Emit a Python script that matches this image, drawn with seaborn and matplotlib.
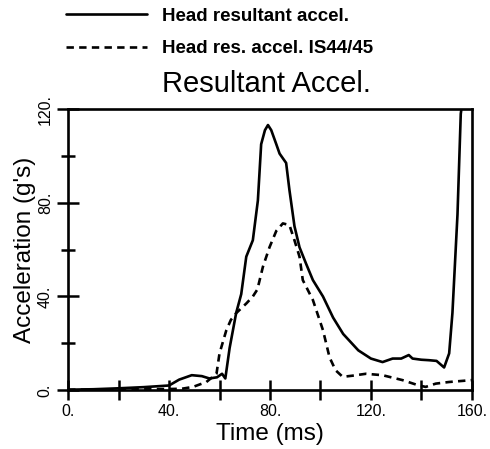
import seaborn as sns
import matplotlib.pyplot as plt
import pandas as pd

# Values
solid_t = [0, 10, 20, 30, 40, 44, 49, 53, 56, 59, 61, 62.3, 64, 66.6, 68.6, 70.6, 73.2,
           75.2, 76.5, 78, 79.2, 80.5, 82.5, 83.8, 86.4, 87.7, 89.7, 91.7, 94.3, 97,
           101, 105, 109, 115, 120, 124.6, 128.6, 132, 135, 136.5, 140, 143, 146, 149,
           151, 152.3, 154.3, 155.6, 156.5]
solid_g = [0.2, 0.4, 0.8, 1.3, 2, 4.5, 6.4, 6, 5, 5.5, 7, 5, 18, 33, 41, 57, 64,
           81, 105, 111, 113.2, 111, 105, 101, 97, 85.5, 70, 61, 54, 47,
           40, 31, 24, 17, 13.5, 12, 13.5, 13.5, 15, 13.5, 13, 12.8, 12.5, 9.7,
           15.7, 33, 75, 118, 125]

dash_t = [0, 20, 40, 45, 49.5, 54.8, 58.8, 60, 62.7, 64.5, 66.7, 70.6, 73.2, 75,
          77.2, 79.8, 82.5, 85.1, 87.7, 89.7, 91.7, 93, 97, 101, 103.6, 106, 108.8,
          112.8, 118, 124.6, 132.5, 139, 141.7, 145.7, 151, 160]
dash_g = [0.2, 0.3, 0.5, 0.6, 1.4, 3.5, 7, 15.7, 25.6, 30, 33, 37, 40, 43,
          52.7, 61, 68, 71.2, 70.5, 64, 57, 47, 38.5, 25.6, 14, 8.5, 5.7,
          6.2, 7, 6.4, 4.3, 2, 1.4, 2.8, 3.5, 4.3]

x_ticks = [0, 40, 80, 120, 160]
x_labels = ['0.', '40.', '80.', '120.', '160.']
y_ticks = [0, 40, 80, 120]
y_labels = ['0.', '40.', '80.', '120.']

solid_df = pd.DataFrame({'Time': solid_t, 'Accel': solid_g})
dash_df = pd.DataFrame({'Time': dash_t, 'Accel': dash_g})

sns.set_style('white')
plt.rcParams['font.family'] = ['Liberation Sans', 'DejaVu Sans']
plt.rcParams['text.color'] = 'black'
plt.rcParams['axes.labelcolor'] = 'black'
plt.rcParams['xtick.color'] = 'black'
plt.rcParams['ytick.color'] = 'black'

fig = plt.figure(figsize=(4.9, 4.49), dpi=100)
ax = fig.add_axes([0.139, 0.131, 0.824, 0.626])

sns.lineplot(x='Time', y='Accel', data=solid_df, ax=ax, color='black', lw=1.9,
             label='Head resultant accel.', sort=False)
sns.lineplot(x='Time', y='Accel', data=dash_df, ax=ax, color='black', lw=1.9,
             dashes=False, label='Head res. accel. IS44/45', sort=False)
ax.lines[1].set_dashes([2.8, 2])

ax.set_xlim(0, 160)
ax.set_ylim(0, 120)
ax.set_xticks(x_ticks)
ax.set_xticklabels(x_labels, fontsize=11.5)
ax.set_xticks([20, 60, 100, 140], minor=True)
ax.set_yticks(y_ticks)
ax.set_yticklabels(y_labels, fontsize=11.5, rotation=90, va='center')
ax.set_yticks([20, 60, 100], minor=True)
ax.tick_params(axis='x', which='both', direction='inout', length=14, width=1.8,
               color='black', pad=3, bottom=True)
ax.tick_params(axis='y', which='major', direction='inout', length=16, width=1.8,
               color='black', pad=3, left=True)
ax.tick_params(axis='y', which='minor', direction='inout', length=10, width=1.8,
               color='black', left=True)
for s in ax.spines.values():
    s.set_linewidth(1.9)
    s.set_color('black')

ax.set_xlabel('Time (ms)', fontsize=17.5, labelpad=3)
ax.set_ylabel("Acceleration (g's)", fontsize=17.5, labelpad=1)
ax.set_title('Resultant Accel.', fontsize=21, pad=12, x=0.49, color='black')

handles, labels = ax.get_legend_handles_labels()
ax.get_legend().remove()
fig.legend(handles, labels, loc='upper left', bbox_to_anchor=(0.101, 1.02),
           frameon=False, handlelength=4.3, handletextpad=0.8, labelspacing=0.8,
           prop={'size': 13.5, 'weight': 'bold'})

fig.savefig('out.png', dpi=100)
